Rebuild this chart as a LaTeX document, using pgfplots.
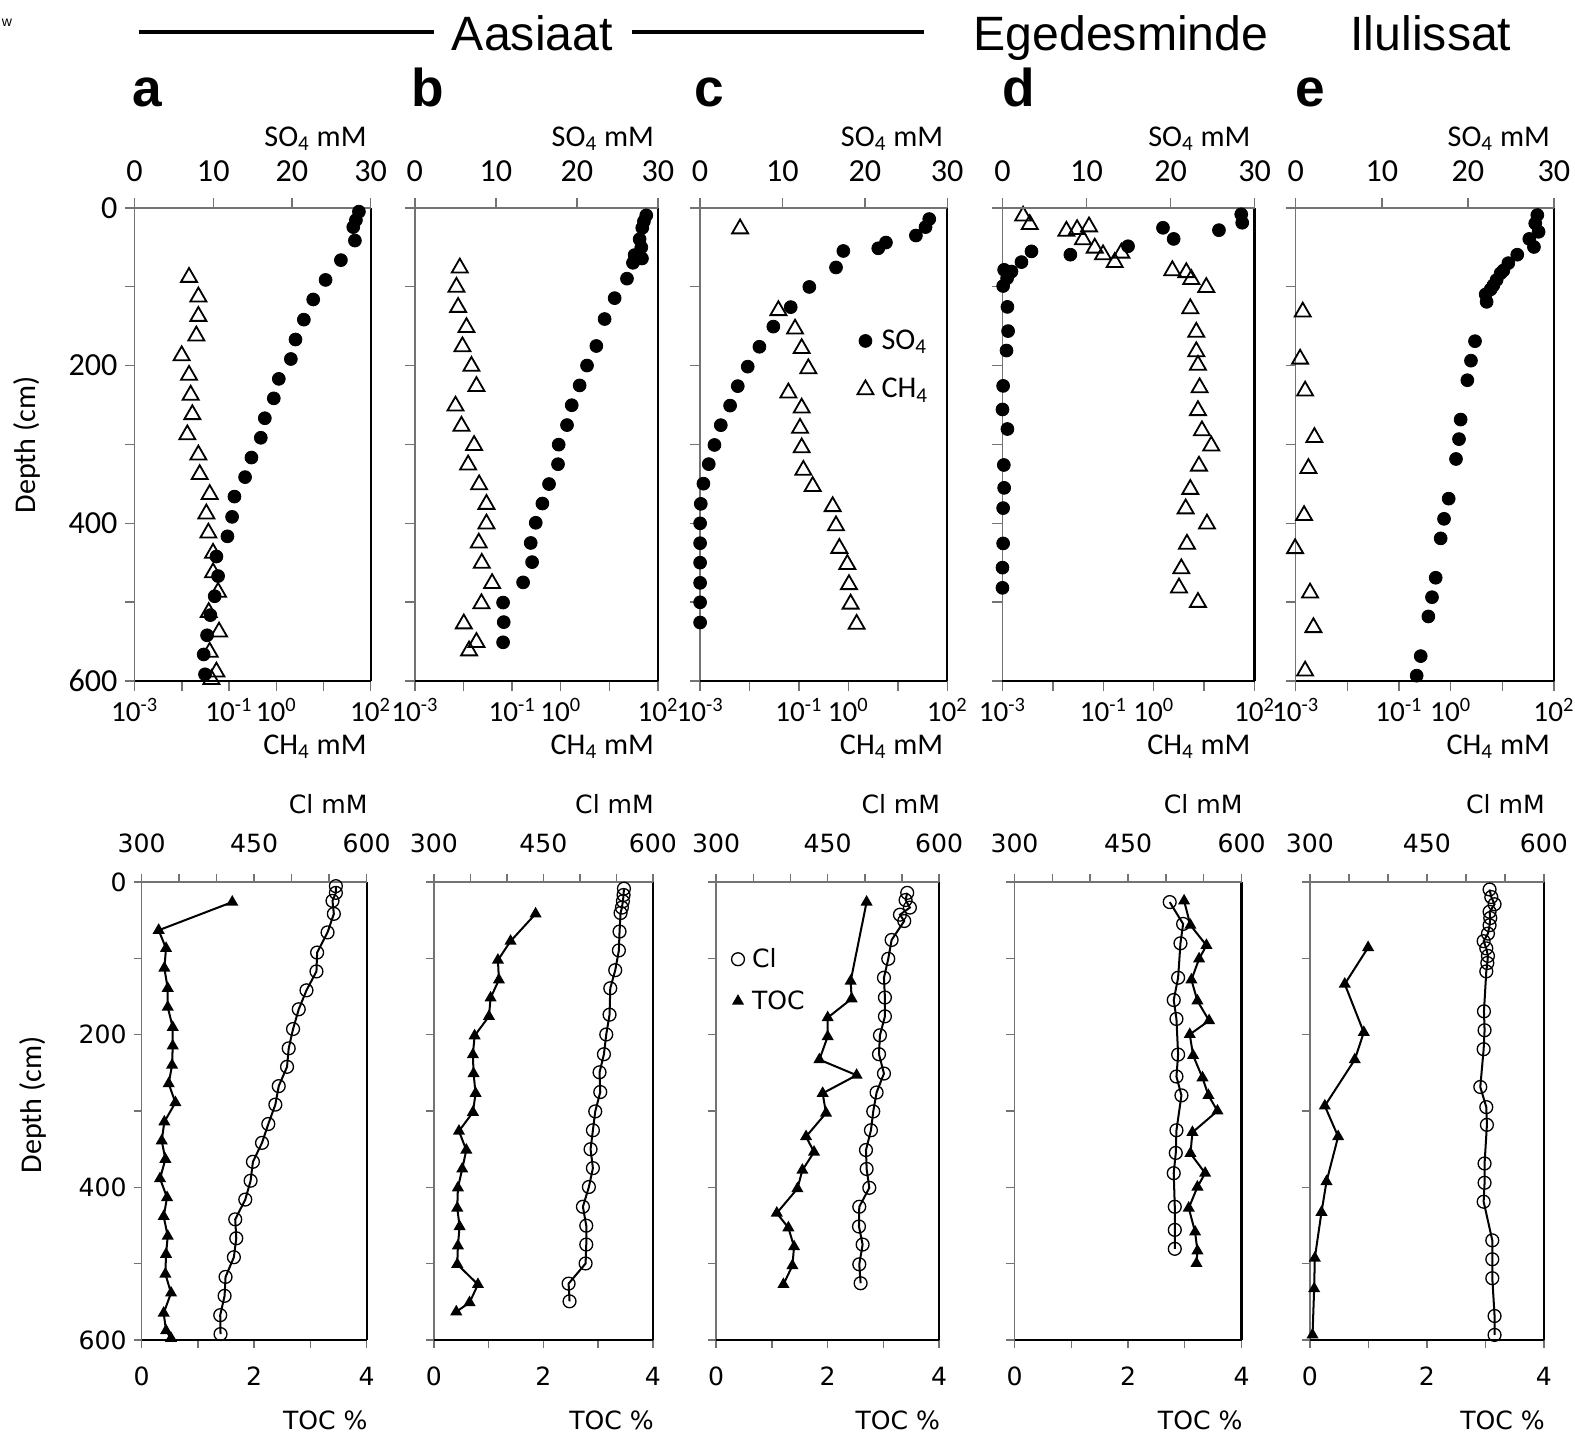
\documentclass[border=0pt]{standalone}
\usepackage{fontspec}
\setmainfont{Carlito}
\newfontfamily\dejavu{DejaVu Sans}
\newfontfamily\arial{Liberation Sans}
\usepackage{pgfplots}
\usepackage{pgfplotstable}
\pgfplotsset{compat=1.18}

% ---------------- top row: SO4 (s) and log10 CH4 (l) vs depth (d) ----------------
\pgfplotstableread{
s d
28.51 4.7
28.13 15.4
27.79 24.3
28.00 41.4
26.22 66.2
24.27 91.3
22.70 116.1
21.51 141.7
20.45 166.9
19.86 191.6
18.33 216.8
17.69 241.5
16.55 266.7
16.04 291.5
14.85 316.6
14.04 341.4
12.69 366.1
12.39 391.8
11.80 416.5
10.40 442.1
10.61 466.9
10.18 492.5
9.63 516.4
9.21 542.0
8.78 566.3
8.95 591.5
}\SOa
\pgfplotstableread{
l d
-1.847 87.9
-1.649 112.7
-1.649 137.4
-1.692 162.2
-2.003 187.3
-1.847 212.1
-1.812 237.3
-1.777 262.0
-1.883 287.6
-1.649 313.2
-1.621 338.0
-1.409 363.2
-1.480 387.9
-1.437 412.2
-1.338 437.8
-1.338 462.6
-1.232 487.3
-1.430 513.0
-1.211 537.7
-1.409 563.3
-1.267 588.5
-1.373 597.9
}\CHa
\pgfplotstableread{
s d
28.56 9.4
28.27 17.1
28.07 25.3
27.74 39.7
27.95 50.0
27.12 59.8
28.03 64.1
26.92 69.6
26.18 89.7
24.66 114.4
23.42 140.9
22.40 175.1
21.25 199.9
20.34 225.1
19.36 250.2
18.78 275.4
17.75 300.2
17.67 325.0
16.56 350.2
15.74 374.9
14.92 399.3
14.30 424.9
14.47 449.2
13.36 474.9
10.89 500.5
10.97 525.3
10.89 550.9
}\SOb
\pgfplotstableread{
l d
-2.075 76.0
-2.144 100.4
-2.110 126.0
-1.938 151.6
-2.021 175.9
-1.836 200.7
-1.733 226.3
-2.164 251.1
-2.041 276.7
-1.781 301.1
-1.904 325.8
-1.678 351.0
-1.527 375.8
-1.527 400.6
-1.685 424.9
-1.623 450.5
-1.411 476.2
-1.630 501.8
-1.993 527.4
-1.733 550.9
-1.884 561.6
}\CHb
\pgfplotstableread{
s d
27.82 14.1
27.37 24.3
26.20 35.0
22.56 43.9
21.63 51.2
17.39 54.6
16.50 75.5
13.26 100.2
11.00 125.8
8.89 150.5
7.20 176.1
5.78 201.3
4.57 226.0
3.64 250.7
2.51 275.5
1.74 300.6
1.05 324.9
0.40 349.7
0.08 375.3
0 400.0
0 425.2
0 449.9
0 475.5
0 500.2
0 525.8
}\SOc
\pgfplotstableread{
l d
-2.191 26.4
-1.416 130.1
-1.079 153.5
-0.945 178.2
-0.810 203.8
-1.214 234.5
-0.945 253.7
-0.978 279.3
-0.945 304.1
-0.911 332.6
-0.722 353.1
-0.318 378.7
-0.251 403.0
-0.183 431.6
-0.021 452.0
0.012 477.6
0.046 502.3
0.167 527.9
}\CHc
\pgfplotstableread{
s d
28.41 8.1
28.53 18.8
19.10 25.2
25.76 28.2
20.37 39.3
14.94 48.6
3.45 55.1
8.08 59.3
2.26 68.7
1.07 80.7
0.20 78.5
0.55 89.2
0.08 99.0
0.59 125.5
0.67 156.2
0.48 180.9
0.08 225.7
0 255.6
0.59 280.4
0.16 326.0
0.20 355.0
0.08 380.7
0.08 425.5
0 456.2
0 481.8
}\SOd
\pgfplotstableread{
l d
-2.590 10.2
-2.458 20.9
-1.732 29.4
-1.520 27.3
-1.283 23.9
-1.402 40.1
-1.170 50.8
-1.005 59.3
-0.774 69.1
-0.642 57.2
0.369 79.4
0.646 81.9
0.745 90.5
1.042 100.7
0.725 127.6
0.844 157.5
0.844 182.2
0.877 199.3
0.910 227.9
0.877 256.9
0.956 282.5
1.141 301.7
0.897 327.3
0.725 356.8
0.633 381.5
1.056 400.7
0.659 426.3
0.547 457.5
0.501 481.8
0.877 500.1
}\CHd
\pgfplotstableread{
s d
28.07 9.0
27.83 19.6
28.22 30.3
27.14 39.3
27.68 49.5
25.74 59.3
24.70 70.0
24.12 79.4
23.81 82.8
23.34 91.3
22.96 98.2
22.65 103.3
22.07 109.7
22.18 119.1
20.83 169.0
20.36 193.7
19.94 218.5
19.16 268.4
18.97 293.2
18.62 318.4
17.77 368.7
17.23 394.3
16.84 419.1
16.26 469.0
15.83 493.7
15.41 518.1
14.52 568.4
14.05 593.2
}\SOe
\pgfplotstableread{
l d
-2.865 131.9
-2.916 191.6
-2.819 232.1
-2.639 291.0
-2.755 330.3
-2.839 390.0
-3.013 431.9
-2.723 488.2
-2.658 532.1
-2.819 587.2
}\CHe

% ---------------- bottom row: Cl (c) and TOC (t) vs depth (d) ----------------
\pgfplotstableread{
c d
559.0 5.5
559.0 14.3
554.5 24.8
556.3 41.8
547.9 66.1
534.0 92.5
533.1 117.2
519.8 142.0
509.5 166.8
501.9 192.7
496.1 218.0
493.9 242.2
482.8 267.5
478.3 291.7
468.9 317.1
460.5 341.8
448.4 366.6
445.3 391.4
438.2 416.1
424.8 442.0
426.2 466.8
423.0 491.6
411.9 517.4
410.6 542.2
404.8 567.5
405.2 592.3
}\CLa
\pgfplotstableread{
t d
1.611 26.4
0.303 63.3
0.434 87.0
0.404 112.8
0.464 139.3
0.464 164.0
0.553 190.5
0.553 214.7
0.541 240.0
0.481 264.2
0.600 289.0
0.404 314.3
0.357 339.1
0.422 363.3
0.327 388.6
0.452 413.4
0.392 438.2
0.464 464.0
0.434 487.7
0.422 513.6
0.523 538.4
0.392 564.8
0.434 587.9
0.523 597.8
}\TOCa
\pgfplotstableread{
c d
560.3 8.8
559.8 17.1
558.9 25.3
557.5 33.6
555.7 40.7
554.3 65.0
553.4 89.7
548.4 115.6
541.6 139.3
540.6 173.9
536.1 199.8
532.9 225.7
526.9 249.4
527.9 275.2
521.0 300.6
517.8 325.3
514.6 350.1
517.8 374.9
512.3 399.6
504.1 425.5
508.7 450.3
508.7 475.0
507.8 499.8
484.5 526.2
485.8 549.4
}\CLb
\pgfplotstableread{
t d
1.857 41.8
1.400 77.6
1.169 102.4
1.187 128.3
1.035 151.9
1.005 176.1
0.743 201.5
0.712 226.2
0.724 251.0
0.761 276.9
0.712 301.7
0.457 326.4
0.591 351.2
0.517 376.0
0.438 400.7
0.426 427.2
0.469 451.4
0.438 476.7
0.426 500.9
0.804 527.3
0.651 551.0
0.408 563.1
}\TOCb
\pgfplotstableread{
c d
557.0 14.3
554.8 23.7
560.6 33.6
547.2 42.9
553.0 51.2
536.0 76.0
531.5 100.7
525.7 125.5
527.0 151.4
527.0 176.1
520.3 200.9
519.0 225.7
525.7 251.0
515.8 275.8
511.3 300.6
508.2 325.3
501.5 351.2
502.4 376.0
506.0 400.7
492.5 425.5
492.1 451.4
497.0 475.0
492.5 500.9
494.3 525.7
}\CLc
\pgfplotstableread{
t d
2.698 26.4
2.412 129.9
2.430 153.0
2.000 177.8
2.000 202.6
1.851 232.8
2.519 253.2
1.910 276.9
1.970 302.8
1.612 333.6
1.755 353.9
1.546 377.6
1.457 401.8
1.087 433.8
1.295 453.0
1.397 477.8
1.367 502.6
1.206 527.3
}\TOCc
\pgfplotstableread{
c d
505.1 26.4
522.8 55.0
519.3 80.4
516.2 125.5
510.4 154.7
514.0 179.5
516.2 226.2
514.0 254.9
520.6 279.6
514.0 325.3
513.1 355.0
510.4 381.5
511.8 425.5
511.8 455.8
511.8 480.6
}\CLd
\pgfplotstableread{
t d
2.988 24.8
3.100 56.7
3.382 83.1
3.253 100.7
3.117 128.3
3.223 155.8
3.429 181.7
3.088 199.8
3.147 227.3
3.312 256.5
3.417 279.6
3.576 300.0
3.135 328.1
3.100 355.6
3.359 381.5
3.223 399.6
3.070 427.2
3.182 458.5
3.223 483.3
3.206 499.8
}\TOCd
\pgfplotstableread{
c d
530.4 9.9
532.6 19.8
536.8 29.2
530.4 39.1
531.3 47.3
530.4 56.7
528.3 67.7
522.8 77.6
526.2 87.0
528.3 96.9
527.5 106.2
526.2 117.2
523.2 169.5
524.0 194.3
522.8 219.1
518.5 268.6
526.2 295.0
527.0 318.2
524.0 368.8
524.0 394.1
522.8 418.9
533.9 469.5
533.9 494.3
533.9 519.1
536.8 568.6
536.8 593.4
}\CLe
\pgfplotstableread{
t d
0.996 85.9
0.597 133.8
0.922 197.1
0.768 232.8
0.256 293.4
0.484 333.6
0.285 392.5
0.199 432.7
0.085 492.7
0.074 532.8
0.046 593.4
}\TOCe

\newcommand\tfont{\fontsize{16}{16}\selectfont}
\newcommand\logfont{\fontsize{14.5}{14.5}\selectfont}
\newcommand\lfont{\fontsize{15}{15}\selectfont}
\newcommand\bfont{\dejavu\fontsize{12.5}{12.5}\selectfont}

\pgfplotsset{
  base/.style={scale only axis, anchor=north west, ymin=0, ymax=600, y dir=reverse,
    clip=false, tick align=outside, xminorticks=false, yminorticks=false,
    axis line style={black!55, line width=0.7pt},
    tick style={black!55, line width=0.7pt}},
  topA/.style={base, height=235.5pt, major tick length=5pt,
    ticklabel style={font=\tfont}, xticklabel style={font=\logfont},
    xmin=1e-3, xmax=1e2, xtick={1e-3,1e-2,1e-1,1,10,100},
    xticklabels={10\textsuperscript{-3},,10\textsuperscript{-1},10\textsuperscript{0},,10\textsuperscript{2}},
    xtick pos=left, ytick={0,100,...,600}, ytick pos=left, yticklabels={}},
  topB/.style={base, height=235.5pt, major tick length=5pt,
    ticklabel style={font=\tfont}, xticklabel style={yshift=4.5pt},
    xmin=0, xmax=30, xtick={0,10,20,30}, xticklabels={0,10,20,30},
    axis x line*=top, hide y axis},
  botA/.style={base, height=228pt, major tick length=4pt,
    ticklabel style={font=\bfont}, xticklabel style={yshift=-6pt},
    xmin=0, xmax=4, xtick={0,1,2,3,4}, xticklabels={0,,2,,4},
    xtick pos=left, ytick={0,100,...,600}, ytick pos=left, yticklabels={}},
  botB/.style={base, height=228pt, major tick length=4pt,
    ticklabel style={font=\bfont}, xticklabel style={yshift=7pt},
    xmin=300, xmax=600, xtick={300,350,...,600}, xticklabels={300,,,450,,,600},
    axis x line*=top, hide y axis},
  ch4/.style={only marks, mark=triangle, mark size=4.6pt, line width=0.9pt, black},
  so4/.style={only marks, mark=*, mark size=3.2pt, black},
  cl/.style={black, line width=1pt, mark=o, mark size=3.2pt, mark options={line width=0.65pt}},
  toc/.style={black, line width=1pt, mark=triangle*, mark size=2.5pt},
  onemark/.style={legend image code/.code={\draw[##1] plot coordinates {(0pt,0pt)}; \path[draw=none,fill=none] (-4pt,0pt) -- (#1,0pt);}},
}

\newcommand\edges{%
  \draw[black, line width=1.1pt] (axis description cs:1,0) -- (axis description cs:1,1);
  \draw[black, line width=0.9pt] (axis description cs:0,0) -- (axis description cs:1,0);}

\begin{document}
\begin{tikzpicture}
\path[use as bounding box] (0,0) rectangle (784pt,-717pt);
\fill[white] (0,0) rectangle (784pt,-717pt);

% titles
\node[font=\arial\fontsize{7}{7}\selectfont, anchor=base] at (3.5pt,-13pt) {w};
\draw[line width=1.8pt] (69pt,-16pt) -- (216pt,-16pt);
\node[font=\arial\fontsize{24}{24}\selectfont, anchor=base] at (265pt,-25pt) {Aasiaat};
\draw[line width=1.8pt] (314.5pt,-16pt) -- (460pt,-16pt);
\node[font=\arial\fontsize{24}{24}\selectfont, anchor=base] at (558pt,-25pt) {Egedesminde};
\node[font=\arial\fontsize{24}{24}\selectfont, anchor=base] at (712.3pt,-25pt) {Ilulissat};
\foreach \lx/\lt in {73.5/a, 213/b, 353/c, 507/d, 652/e}
  \node[font=\arial\bfseries\fontsize{26.5}{26.5}\selectfont, anchor=base] at (\lx pt,-53.25pt) {\lt};

% y labels
\node[rotate=90, font=\lfont] at (13.5pt,-221.5pt) {Depth (cm)};
\node[rotate=90, font=\lfont] at (16.5pt,-550pt) {Depth (cm)};

% axis-name labels
\foreach \xr in {184.5, 327.5, 471.5, 624.5, 773.5} {
  \node[font=\lfont, anchor=base east] at (\xr pt+1.5pt,-73pt) {SO\textsubscript{4} mM};
  \node[font=\lfont, anchor=base east] at (\xr pt+1.5pt,-375.5pt) {CH\textsubscript{4} mM};
}
\foreach \xr in {182.5, 325, 467.5, 618, 768.5} {
  \node[font=\bfont, anchor=base east] at (\xr pt+4pt,-405pt) {Cl mM};
  \node[font=\bfont, anchor=base east] at (\xr pt+4pt,-711.5pt) {TOC \%};
}

% ================= TOP ROW =================
% a
\begin{axis}[xmode=log, topA, at={(67pt,-103.5pt)}, width=117.5pt, yticklabels={0,,200,,400,,600}]
\addplot[ch4] table[x expr={10^(\thisrow{l})}, y=d]{\CHa};
\edges
\end{axis}
\begin{axis}[topB, at={(67pt,-103.5pt)}, width=117.5pt]
\addplot[so4] table[x=s, y=d]{\SOa};
\end{axis}
% b
\begin{axis}[xmode=log, topA, at={(206.5pt,-103.5pt)}, width=121pt]
\addplot[ch4] table[x expr={10^(\thisrow{l})}, y=d]{\CHb};
\edges
\end{axis}
\begin{axis}[topB, at={(206.5pt,-103.5pt)}, width=121pt]
\addplot[so4] table[x=s, y=d]{\SOb};
\end{axis}
% c
\begin{axis}[xmode=log, topA, at={(348.5pt,-103.5pt)}, width=123pt]
\addplot[ch4] table[x expr={10^(\thisrow{l})}, y=d]{\CHc};
\edges
\end{axis}
\begin{axis}[topB, at={(348.5pt,-103.5pt)}, width=123pt, onemark=6pt,
  legend style={draw=none, fill=none, at={(axis description cs:0.635,0.752)}, anchor=north west,
    font=\lfont, row sep=9pt, inner sep=0pt}, legend cell align=left]
\addplot[so4] table[x=s, y=d]{\SOc};
\addlegendentry{SO\textsubscript{4}}
\addlegendimage{ch4}
\addlegendentry{CH\textsubscript{4}}
\end{axis}
% d
\begin{axis}[xmode=log, topA, at={(499pt,-103.5pt)}, width=125.5pt]
\addplot[ch4] table[x expr={10^(\thisrow{l})}, y=d]{\CHd};
\edges
\end{axis}
\begin{axis}[topB, at={(499pt,-103.5pt)}, width=125.5pt]
\addplot[so4] table[x=s, y=d]{\SOd};
\end{axis}
% e
\begin{axis}[xmode=log, topA, at={(645pt,-103.5pt)}, width=128.5pt]
\addplot[ch4] table[x expr={10^(\thisrow{l})}, y=d]{\CHe};
\edges
\end{axis}
\begin{axis}[topB, at={(645pt,-103.5pt)}, width=128.5pt]
\addplot[so4] table[x=s, y=d]{\SOe};
\end{axis}

% ================= BOTTOM ROW =================
% a
\begin{axis}[botA, at={(70.5pt,-439pt)}, width=112pt, yticklabels={0,,200,,400,,600}]
\addplot[toc] table[x=t, y=d]{\TOCa};
\edges
\end{axis}
\begin{axis}[botB, at={(70.5pt,-439pt)}, width=112pt]
\addplot[cl] table[x=c, y=d]{\CLa};
\end{axis}
% b
\begin{axis}[botA, at={(216pt,-439pt)}, width=109pt]
\addplot[toc] table[x=t, y=d]{\TOCb};
\edges
\end{axis}
\begin{axis}[botB, at={(216pt,-439pt)}, width=109pt]
\addplot[cl] table[x=c, y=d]{\CLb};
\end{axis}
% c
\begin{axis}[botA, at={(356.5pt,-439pt)}, width=111pt]
\addplot[toc] table[x=t, y=d]{\TOCc};
\edges
\end{axis}
\begin{axis}[botB, at={(356.5pt,-439pt)}, width=111pt, onemark=5pt,
  legend style={draw=none, fill=none, at={(axis description cs:0.06,0.865)}, anchor=north west,
    font=\bfont, row sep=6pt, inner sep=0pt}, legend cell align=left]
\addplot[cl] table[x=c, y=d]{\CLc};
\addlegendentry{Cl}
\addlegendimage{toc}
\addlegendentry{TOC}
\end{axis}
% d
\begin{axis}[botA, at={(505pt,-439pt)}, width=113pt]
\addplot[toc] table[x=t, y=d]{\TOCd};
\edges
\end{axis}
\begin{axis}[botB, at={(505pt,-439pt)}, width=113pt]
\addplot[cl] table[x=c, y=d]{\CLd};
\end{axis}
% e
\begin{axis}[botA, at={(652pt,-439pt)}, width=116.5pt]
\addplot[toc] table[x=t, y=d]{\TOCe};
\edges
\end{axis}
\begin{axis}[botB, at={(652pt,-439pt)}, width=116.5pt]
\addplot[cl] table[x=c, y=d]{\CLe};
\end{axis}
\end{tikzpicture}
\end{document}
